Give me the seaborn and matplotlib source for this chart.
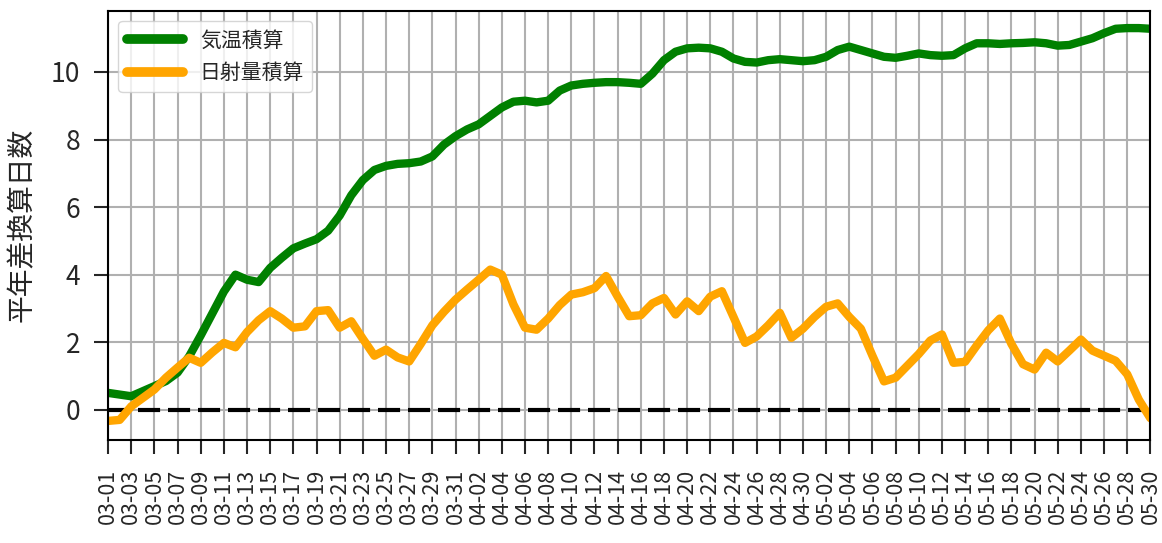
import numpy as np
import pandas as pd
import matplotlib
matplotlib.use("Agg")
import matplotlib.pyplot as plt
import seaborn as sns

# ---- data ----
dates = pd.date_range("2023-03-01", "2023-05-30", freq="D")
date_labels = [d.strftime("%m-%d") for d in dates]

temp_accum = [
    0.50, 0.45, 0.40, 0.55, 0.70, 0.85, 1.10, 1.58, 2.20, 2.85,
    3.50, 4.00, 3.85, 3.78, 4.20, 4.50, 4.78, 4.92, 5.05, 5.30,
    5.75, 6.35, 6.80, 7.10, 7.22, 7.28, 7.30, 7.35, 7.50, 7.85,
    8.10, 8.30, 8.45, 8.70, 8.95, 9.12, 9.15, 9.10, 9.15, 9.45,
    9.60, 9.65, 9.68, 9.70, 9.70, 9.68, 9.65, 9.95, 10.35, 10.60,
    10.70, 10.72, 10.70, 10.60, 10.40, 10.30, 10.28, 10.35, 10.38, 10.35,
    10.32, 10.35, 10.45, 10.65, 10.75, 10.65, 10.55, 10.45, 10.42, 10.48,
    10.55, 10.50, 10.48, 10.50, 10.70, 10.85, 10.85, 10.83, 10.85, 10.86,
    10.88, 10.85, 10.78, 10.80, 10.90, 11.00, 11.15, 11.28, 11.30, 11.30,
    11.28,
]

solar_accum = [
    -0.33, -0.30, 0.10, 0.35, 0.60, 0.95, 1.25, 1.54, 1.39, 1.70,
    1.98, 1.85, 2.30, 2.65, 2.92, 2.70, 2.43, 2.47, 2.92, 2.95,
    2.43, 2.62, 2.10, 1.60, 1.78, 1.55, 1.43, 1.95, 2.50, 2.90,
    3.26, 3.56, 3.85, 4.15, 4.00, 3.12, 2.43, 2.37, 2.70, 3.10,
    3.41, 3.48, 3.60, 3.96, 3.35, 2.77, 2.80, 3.15, 3.31, 2.82,
    3.21, 2.92, 3.35, 3.51, 2.75, 1.98, 2.17, 2.50, 2.87, 2.13,
    2.40, 2.75, 3.05, 3.15, 2.75, 2.40, 1.60, 0.84, 0.95, 1.30,
    1.65, 2.05, 2.23, 1.39, 1.42, 1.90, 2.35, 2.70, 1.95, 1.35,
    1.19, 1.69, 1.43, 1.75, 2.08, 1.75, 1.60, 1.45, 1.05, 0.30,
    -0.25,
]

series_names = ["気温積算", "日射量積算"]
series_colors = ["green", "orange"]
ylabel = "平年差換算日数"

# ---- plot ----
sns.set_style("ticks")
plt.rcParams["font.family"] = ["Noto Sans CJK JP", "DejaVu Sans"]

fig = plt.figure(figsize=(11.62, 5.43), dpi=100)
ax = fig.add_axes([0.093, 0.19, 0.897, 0.79])

days = np.arange(len(dates))
df = pd.DataFrame({"day": days, "temp": temp_accum, "solar": solar_accum})

sns.lineplot(data=df, x="day", y="temp", ax=ax, color=series_colors[0],
             linewidth=6, label=series_names[0])
sns.lineplot(data=df, x="day", y="solar", ax=ax, color=series_colors[1],
             linewidth=6, label=series_names[1])
ax.axhline(0, color="black", linewidth=3, linestyle=(0, (5.3, 1.9)), zorder=1.5)

ax.set_xlim(days[0], days[-1])
ax.set_ylim(-0.89, 11.81)
tick_idx = days[::2]
ax.set_xticks(tick_idx)
ax.set_xticklabels([date_labels[i] for i in tick_idx], rotation=90, fontsize=15.5)
ax.set_yticks([0, 2, 4, 6, 8, 10])
ax.tick_params(axis="y", labelsize=19, length=10, width=1.5, pad=10)
ax.tick_params(axis="x", length=10, width=1.5, pad=11)
ax.set_xlabel("")
ax.set_ylabel(ylabel, fontsize=20, labelpad=10)

ax.grid(True, color="#b0b0b0", linewidth=1.5)
ax.set_axisbelow(True)
for s in ax.spines.values():
    s.set_linewidth(1.5)
    s.set_color("black")

leg = ax.legend(loc="upper left", fontsize=15, handlelength=2.7,
                handletextpad=0.8, frameon=True, fancybox=True, framealpha=0.8)
for line in leg.get_lines():
    line.set_linewidth(7)

fig.savefig("out.png", dpi=100)
